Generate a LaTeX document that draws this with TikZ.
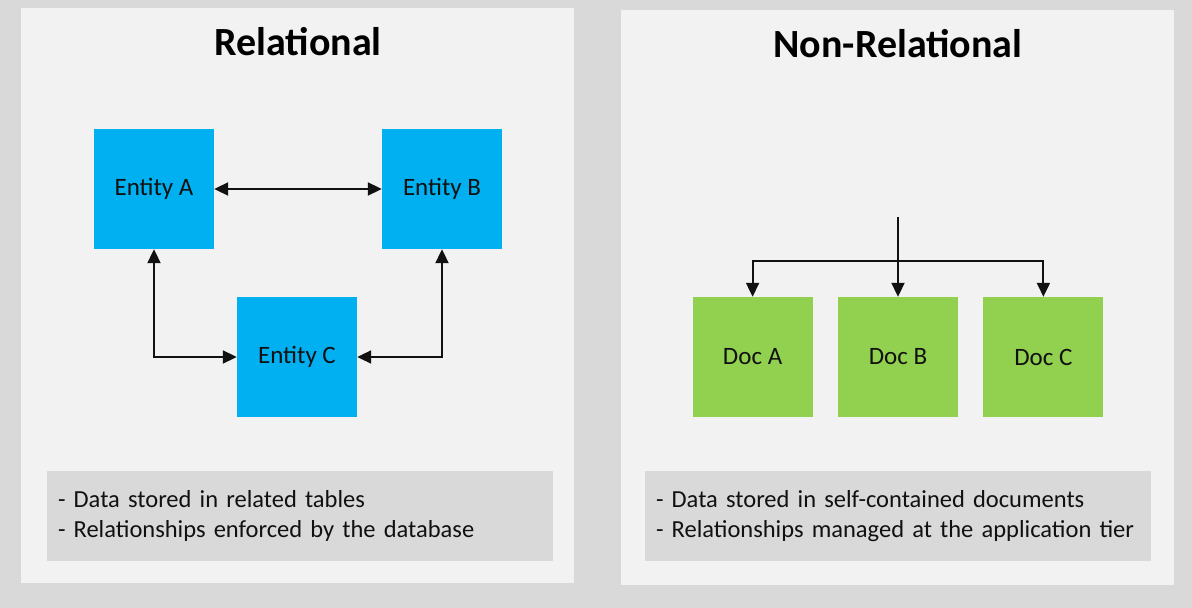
\documentclass[tikz,border=0pt]{standalone}
\usepackage{fontspec}
\setmainfont{Carlito}
\usetikzlibrary{positioning,arrows.meta,calc}
\definecolor{cBack}{HTML}{D9D9D9}
\definecolor{cPanel}{HTML}{F2F2F2}
\definecolor{cNote}{HTML}{D9D9D9}
\definecolor{cEntity}{HTML}{00B0F0}
\definecolor{cDoc}{HTML}{92D050}
\definecolor{cInk}{HTML}{111111}

\begin{document}
\begin{tikzpicture}[x=1pt,y=1pt,
  panel/.style={fill=cPanel,draw=none,anchor=south west,inner sep=0pt},
  heading/.style={font=\fontsize{40}{46}\selectfont\bfseries,text=black},
  entity/.style={fill=cEntity,draw=none,minimum width=120pt,minimum height=120pt,
                 inner sep=0pt,font=\fontsize{25}{30}\selectfont,text=cInk},
  doc/.style={entity,fill=cDoc},
  note/.style={fill=cNote,draw=none,minimum width=506pt,minimum height=90pt,
               text width=484pt,inner xsep=11pt,inner ysep=0pt,align=left,
               font=\fontsize{24.5}{29.6}\selectfont,text=cInk},
  ar/.style={-{Triangle[length=14pt,width=13pt]},line width=2pt,cInk},
  arboth/.style={{Triangle[length=14pt,width=13pt]}-{Triangle[length=14pt,width=13pt]},
                 line width=2pt,cInk}]

\useasboundingbox (0,0) rectangle (1192,608);
\fill[cBack] (0,0) rectangle (1192,608);

% the two panels
\node[panel,minimum width=553pt,minimum height=575pt] (relPanel) at (21,25) {};
\node[panel,minimum width=553pt,minimum height=575pt] (docPanel) at (621,23) {};

\node[heading] (relTitle) at (298,566) {Relational};
\node[heading] (docTitle) at (898,564) {Non-Relational};

% relational side
\node[entity] (entA) at (154,419) {Entity A};
\node[entity] (entB) at (442,419) {Entity B};
\node[entity] (entC) at (297,251) {Entity C};

\draw[arboth] (entA) -- (entB);
\draw[arboth] (entA.south) |- (entC.west);
\draw[arboth] (entB.south) |- (entC.east);

\node[note] (relNote) at (300,92)
  {- Data stored in related tables\\
   - Relationships enforced by the database};

% document side
\node[doc] (docB) at (898,251) {Doc B};
\node[doc,left=25pt of docB] (docA) {Doc A};
\node[doc,right=25pt of docB] (docC) {Doc C};

\coordinate (feed) at (898,391);
\coordinate (split) at (898,347);
\draw[ar] (feed) -- (docB.north);
\draw[ar] (split) -| (docA.north);
\draw[ar] (split) -| (docC.north);

\node[note] (docNote) at (898,92)
  {- Data stored in self-contained documents\\
   - Relationships managed at the application tier};
\end{tikzpicture}
\end{document}
